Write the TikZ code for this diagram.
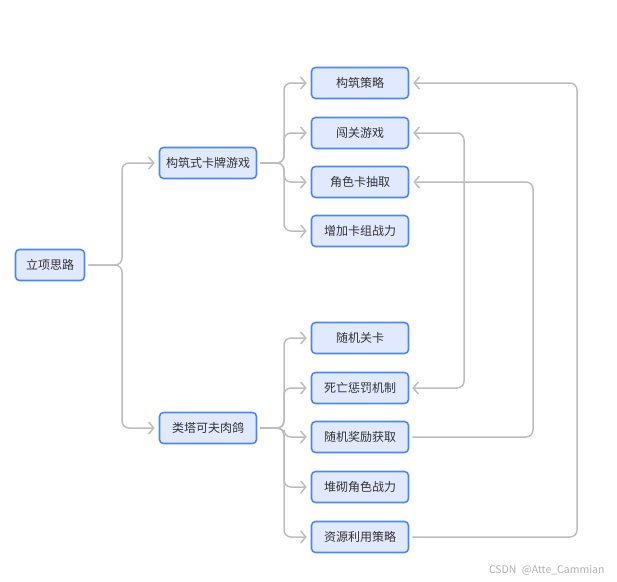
\documentclass[tikz,border=0pt]{standalone}
\usepackage{fontspec}
\setmainfont{Noto Sans CJK SC}
\usetikzlibrary{arrows.meta, calc, positioning}
\definecolor{mapLine}{HTML}{BDBDBD}
\definecolor{mapEdge}{HTML}{4F86F7}
\definecolor{mapFill}{HTML}{E1E9FE}
\definecolor{mapText}{HTML}{333333}
\tikzset{
  box/.style   = {draw=mapEdge, fill=mapFill, line width=1.6pt, rounded corners=4pt,
                  minimum width=97pt, minimum height=31pt, inner sep=0pt,
                  text=mapText, font=\fontsize{12pt}{14pt}\selectfont},
  edge/.style  = {draw=mapLine, line width=1.5pt, rounded corners=7pt,
                  shorten <=3pt, shorten >=4pt},
  tip/.style   = {-{Straight Barb[length=5pt, width=12pt, line width=1.5pt]}},
  both/.style  = {{Straight Barb[length=5pt, width=12pt, line width=1.5pt]}-{Straight Barb[length=5pt, width=12pt, line width=1.5pt]}},
}
\begin{document}
\begin{tikzpicture}[x=1pt,y=-1pt]
  \useasboundingbox (0,0) rectangle (617,581);
  % main branches
  \node[box, minimum width=69pt] (root) at (50,265) {立项思路};
  \node[box] (build) at (208,163) {构筑式卡牌游戏};
  \node[box] (rogue) at (208,428) {类塔可夫肉鸽};
  \coordinate (j0) at (122,265);
  \coordinate (j1) at (284,163);
  \coordinate (j2) at (284,428);
  \draw[edge, tip] (root.east) -- (j0) |- (build.west);
  \draw[edge, tip] (root.east) -- (j0) |- (rogue.west);
  % leaves
  \foreach \y/\n/\t in {83/b1/构筑策略, 133/b2/闯关游戏, 182/b3/角色卡抽取, 231/b4/增加卡组战力} {
    \node[box] (\n) at (360,\y) {\t};
    \draw[edge, tip] (build.east) -- (j1) |- (\n.west);
  }
  \foreach \y/\n/\t in {338/r1/随机关卡, 388/r2/死亡惩罚机制, 437/r3/随机奖励获取, 487/r4/堆砌角色战力, 537/r5/资源利用策略} {
    \node[box] (\n) at (360,\y) {\t};
    \draw[edge, tip] (rogue.east) -- (j2) |- (\n.west);
  }
  % cross links
  \coordinate (c1) at (464,0);
  \coordinate (c2) at (533,0);
  \coordinate (c3) at (577,0);
  \draw[edge, both] (r2.east) -- (r2.east -| c1) -- (b2.east -| c1) -- (b2.east);
  \draw[edge, tip] (r3.east) -- (r3.east -| c2) -- (b3.east -| c2) -- (b3.east);
  \draw[edge, tip] (r5.east) -- (r5.east -| c3) -- (b1.east -| c3) -- (b1.east);
  \node[text=black!30, font=\fontsize{10.5pt}{12pt}\selectfont, anchor=east] (mark) at (608,570) {CSDN\hspace{3pt} @Atte\_Cammian};
\end{tikzpicture}
\end{document}
